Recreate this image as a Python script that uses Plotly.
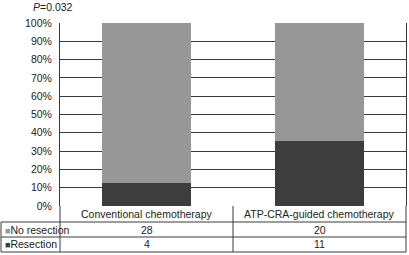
import plotly.graph_objects as go

categories = ["Conventional chemotherapy", "ATP-CRA-guided chemotherapy"]
no_resection = [28, 20]
resection = [4, 11]
series_names = ["No resection", "Resection"]
y_ticks = [0, 10, 20, 30, 40, 50, 60, 70, 80, 90, 100]
y_tick_labels = [f"{v}%" for v in y_ticks]
p_label = "<i>P</i>=0.032"

C_NO = "#979797"
C_RES = "#3d3d3d"
LINE = "#3a3a3a"
FONT = "Liberation Sans, Arial, sans-serif"
TXT = "#222222"

W, H = 409, 255
# plot area in page pixels: x 60..406, y 23..206
PL, PR, PT, PB = 60, 406, 23, 206
L, T, R, B = PL, PT, W - PR, H - PB
ph = PB - PT
pw = PR - PL

def py(pix):
    return (PB - pix) / ph

def px(pix):
    return (pix - PL) / pw

fig = go.Figure()
fig.add_trace(go.Bar(x=categories, y=resection, name=series_names[1],
                     marker=dict(color=C_RES, line=dict(width=0)), width=0.515))
fig.add_trace(go.Bar(x=categories, y=no_resection, name=series_names[0],
                     marker=dict(color=C_NO, line=dict(width=0)), width=0.515))

shapes = []
row_lines = [PB, 222, 237, 252]
LEFT = 1  # page x of table left border
for r in row_lines[1:]:
    shapes.append(dict(type="line", xref="paper", yref="paper", x0=px(LEFT), x1=1,
                       y0=py(r), y1=py(r), line=dict(color=LINE, width=1)))
for xv in [px(LEFT), 0, 0.5, 1]:
    y_top = py(row_lines[1]) if xv == px(LEFT) else 0
    shapes.append(dict(type="line", xref="paper", yref="paper", x0=xv, x1=xv,
                       y0=y_top, y1=py(row_lines[-1]), line=dict(color=LINE, width=1)))

annotations = []
annotations.append(dict(text=p_label, xref="paper", yref="paper", x=px(31), y=py(7),
                        xanchor="left", yanchor="middle", showarrow=False,
                        font=dict(size=10.5, color=TXT, family=FONT)))
for c in categories:
    annotations.append(dict(text=c, xref="x", yref="paper", x=c, y=py(214),
                            xanchor="center", yanchor="middle", showarrow=False,
                            font=dict(size=10.5, color=TXT, family=FONT)))
rows = [(series_names[0], C_NO, no_resection, 229.5), (series_names[1], C_RES, resection, 244.5)]
for name, col, vals, ypix in rows:
    annotations.append(dict(text=f'<span style="color:{col};font-size:9px">■</span>{name}', xref="paper", yref="paper",
                            x=px(LEFT + 2), y=py(ypix), xanchor="left", yanchor="middle", showarrow=False,
                            font=dict(size=10.5, color=TXT, family=FONT)))
    for c, v in zip(categories, vals):
        annotations.append(dict(text=str(v), xref="x", yref="paper", x=c, y=py(ypix),
                                xanchor="center", yanchor="middle", showarrow=False,
                                font=dict(size=10.5, color=TXT, family=FONT)))

fig.update_layout(
    width=W, height=H, margin=dict(l=L, r=R, t=T, b=B, pad=0),
    barmode="stack", barnorm="percent", bargap=0.485,
    paper_bgcolor="white", plot_bgcolor="white",
    showlegend=False,
    font=dict(family=FONT, size=10.5, color=TXT),
    xaxis=dict(showticklabels=False, showgrid=False, zeroline=False, showline=False,
               ticks=""),
    yaxis=dict(range=[0, 100], tickvals=y_ticks, ticktext=y_tick_labels,
               showgrid=True, gridcolor=LINE, gridwidth=1, zeroline=False,
               showline=True, linecolor=LINE, linewidth=1, mirror=True,
               ticks="", ticklabelstandoff=5, tickfont=dict(size=10.5, color=TXT, family=FONT)),
    shapes=shapes, annotations=annotations,
)

fig.write_html("out.html", config={"displayModeBar": False},
               post_script="document.body.style.margin='0';")
